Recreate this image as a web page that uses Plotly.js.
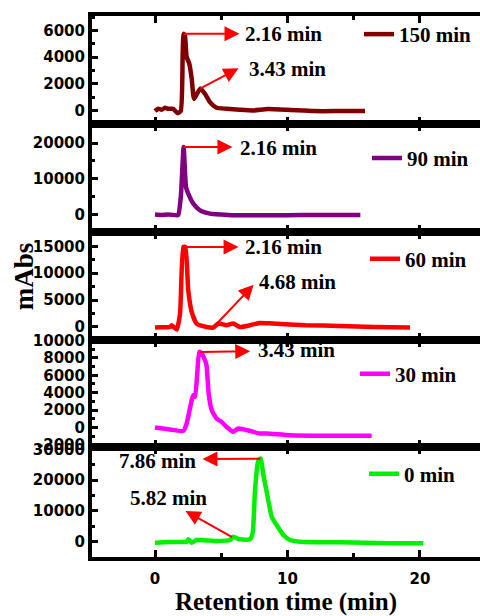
<!DOCTYPE html>
<html><head><meta charset="utf-8">
<script src="https://cdn.plot.ly/plotly-3.0.1.min.js"></script>
<style>html,body{margin:0;padding:0;background:#fff}#chart{width:480px;height:616px}</style>
</head><body><div id="chart"></div>
<script>
// ---- data ----
const seriesNames = ['150 min', '90 min', '60 min', '30 min', '0 min'];

const time150 = [0,0.25,0.5,0.75,1.0,1.38,1.68,1.94,2.09,2.16,2.26,2.39,2.59,2.77,2.94,3.1,3.43,3.77,4.15,4.65,5.4,6.4,7.4,8.5,10,12,14,15.85];
const abs150  = [-50,125,50,200,125,125,-200,-50,4250,5750,5600,4000,3500,2375,875,1125,1650,1250,625,200,125,50,0,100,50,-50,-50,-50];

const time90 = [0,0.5,1.0,1.64,1.75,1.95,2.16,2.34,2.51,2.89,3.4,4.15,5.0,5.9,8,10,12,14,15.5];
const abs90  = [0,-100,50,-200,-100,5000,18900,7700,5860,3070,1200,280,0,-200,-150,-150,-100,-100,-100];

const time60 = [0,0.5,1.13,1.26,1.64,1.89,2.14,2.29,2.51,2.77,3.14,3.9,4.4,4.78,5.4,5.9,6.4,7.17,7.9,8.9,11.4,13.96,16.5,19.25];
const abs60  = [-110,-50,0,316,-490,2490,14870,14870,6820,2790,630,0,-110,630,316,630,0,316,744,630,316,186,0,-110];

const time30 = [0,1.13,2.14,2.39,2.77,2.89,3.02,3.19,3.34,3.5,3.7,3.88,4.05,4.28,4.65,5.03,5.4,5.9,6.29,7.17,7.9,8.43,10.2,12.7,14.5,16.35];
const abs30  = [0,-230,-390,460,3140,3710,3520,6200,8690,8550,8000,7200,3910,1990,1030,640,70,-500,-120,-390,-690,-690,-885,-960,-960,-960];

const time0 = [0,1.0,2.39,2.51,2.77,3.14,4.65,5.66,5.9,6.29,6.4,7.17,7.37,7.55,7.8,7.98,8.18,8.43,8.81,9.18,9.69,10.19,10.94,13.96,17.7,20.25];
const abs0  = [-320,-100,0,780,-320,550,230,550,1620,880,780,780,2730,16790,26530,27080,21660,16240,8120,5420,2180,550,0,-200,-530,-530];

const xTickVals = [0, 10, 20];
const xTickText = ['0', '10', '20'];
const yTickVals = [
  [0, 2000, 4000, 6000],
  [0, 10000, 20000],
  [0, 5000, 10000, 15000],
  [-2000, 0, 2000, 4000, 6000, 8000, 10000],
  [0, 10000, 20000, 30000]
];
const yTickText = [
  ['0', '2000', '4000', '6000'],
  ['0', '10000', '20000'],
  ['0', '5000', '10000', '15000'],
  ['-2000', '0', '2000', '4000', '6000', '8000', '10000'],
  ['0', '10000', '20000', '30000']
];

// peak labels (panel index, retention time, signal, label)
const peakPanel  = [0, 0, 1, 2, 2, 3, 4, 4];
const peakTime   = [2.16, 3.43, 2.16, 2.16, 4.68, 3.43, 7.95, 5.82];
const peakSignal = [5750, 1650, 18900, 14870, 630, 8690, 27000, 1500];
const peakLabel  = ['2.16 min', '3.43 min', '2.16 min', '2.16 min', '4.68 min', '3.43 min', '7.86 min', '5.82 min'];

// ---- layout / style ----
const series = [[time150, abs150], [time90, abs90], [time60, abs60], [time30, abs30], [time0, abs0]];
const colors = ['#800000', '#800080', '#ff0000', '#ff00ff', '#00f000'];
const yRanges = [[-1050, 7087], [-4944, 25220], [-2472, 17604], [-2264, 10031], [-4968, 30749]];
const yMinor = [1000, 5000, 2500, 1000, 5000];
const domains = [[0.7996, 1], [0.6002, 0.7996], [0.4007, 0.6002], [0.2031, 0.4007], [0, 0.2031]];
const xRange = [-4.755, 24.53];
// arrow tip and label anchor (in each panel's axis units)
const arrowTip = [[6.49, 5750], [6.42, 3225], [5.96, 18900], [6.42, 14870], [7.55, 8124], [7.3, 8767], [3.47, 26850], [2.19, 10290]];
const labelPos = [[6.64, 5750, 'left'], [6.94, 3110, 'left'], [6.26, 18700, 'left'], [6.64, 14870, 'left'], [7.7, 8365, 'left'], [7.62, 8880, 'left'], [3.25, 26200, 'right'], [-2.04, 14090, 'left']];
// legend pixel positions: text start x, centre y
const legendPx = [[401, 34], [409, 158], [407, 258.7], [397, 374], [406, 474]];

const L = 92, PW = 388, T = 15.5, PB = 557, PH = 541.5;
const pxX = p => (p - L) / PW;
const pxY = p => (PB - p) / PH;
const sfx = n => (n === 1 ? '' : String(n));

const serif = 'Liberation Serif, Times New Roman, serif';
const sans = 'DejaVu Sans, Arial, sans-serif';

const traces = series.map((s, i) => ({
  type: 'scatter', mode: 'lines', x: s[0], y: s[1], name: seriesNames[i],
  xaxis: 'x' + sfx(i + 1), yaxis: 'y' + sfx(i + 1),
  line: {color: colors[i], width: 4.5, shape: 'spline', smoothing: 0.5},
  legend: 'legend' + sfx(i + 1),
  showlegend: true, hoverinfo: 'skip'
}));

const layout = {
  width: 480, height: 616,
  margin: {l: L, r: 0, t: T, b: 616 - PB},
  paper_bgcolor: '#fff', plot_bgcolor: '#fff',
  showlegend: true,
  annotations: [],
  font: {family: sans, color: '#000'}
};

for (let i = 0; i < 5; i++) {
  const n = i + 1, s = sfx(n);
  const xa = {
    domain: [0, 1], anchor: 'y' + s, range: xRange,
    showline: true, linewidth: 4, linecolor: '#000', mirror: 'ticks',
    ticks: 'inside', ticklen: 7, tickwidth: 3, tickcolor: '#000',
    tickmode: 'array', tickvals: xTickVals, ticktext: xTickText,
    minor: {ticks: 'inside', ticklen: 4, tickwidth: 3, tickcolor: '#000', dtick: 5, tick0: 0},
    showgrid: false, zeroline: false,
    showticklabels: i === 4,
    tickfont: {family: sans, size: 15, weight: 'bold', color: '#000'},
    ticklabelstandoff: 5
  };
  if (i > 0) xa.matches = 'x';
  if (i === 4) {
    xa.title = {text: 'Retention time (min)', font: {family: serif, size: 25, weight: 'bold', color: '#000'}, standoff: 8};
  }
  layout['xaxis' + s] = xa;
  layout['yaxis' + s] = {
    domain: domains[i], anchor: 'x' + s, range: yRanges[i],
    showline: true, linewidth: 4, linecolor: '#000',
    ticks: 'inside', ticklen: 6, tickwidth: 3, tickcolor: '#000',
    tickmode: 'array', tickvals: yTickVals[i], ticktext: yTickText[i],
    minor: {ticks: 'inside', ticklen: 3, tickwidth: 3, tickcolor: '#000', dtick: yMinor[i], tick0: 0},
    showgrid: false, zeroline: false,
    tickfont: {family: sans, size: 15, weight: 'bold', color: '#000'}
  };
  layout['legend' + s] = {
    x: pxX(legendPx[i][0] - 42), y: pxY(legendPx[i][1]), xanchor: 'left', yanchor: 'middle',
    bgcolor: 'rgba(0,0,0,0)', borderwidth: 0,
    font: {family: serif, size: 21, weight: 'bold', color: '#000'}
  };
}

for (let k = 0; k < peakLabel.length; k++) {
  const s = sfx(peakPanel[k] + 1);
  const xr = 'x' + s, yr = 'y' + s;
  layout.annotations.push({
    xref: xr, yref: yr, x: peakTime[k], y: peakSignal[k],
    axref: xr, ayref: yr, ax: arrowTip[k][0], ay: arrowTip[k][1],
    text: '', showarrow: true, arrowside: 'start', arrowcolor: '#ff0000',
    arrowwidth: 2, startarrowhead: 2, startarrowsize: 1.5, standoff: 0, startstandoff: 0
  });
  layout.annotations.push({
    xref: xr, yref: yr, x: labelPos[k][0], y: labelPos[k][1],
    xanchor: labelPos[k][2], yanchor: 'middle', showarrow: false,
    text: peakLabel[k], font: {family: serif, size: 21, weight: 'bold', color: '#000'}
  });
}

layout.annotations.push({
  xref: 'paper', yref: 'paper', x: pxX(24), y: pxY(276), xanchor: 'center', yanchor: 'middle',
  textangle: -90, showarrow: false, text: 'mAbs',
  font: {family: serif, size: 27, weight: 'bold', color: '#000'}
});

Plotly.newPlot('chart', traces, layout, {displayModeBar: false, staticPlot: true});
</script>
</body></html>
